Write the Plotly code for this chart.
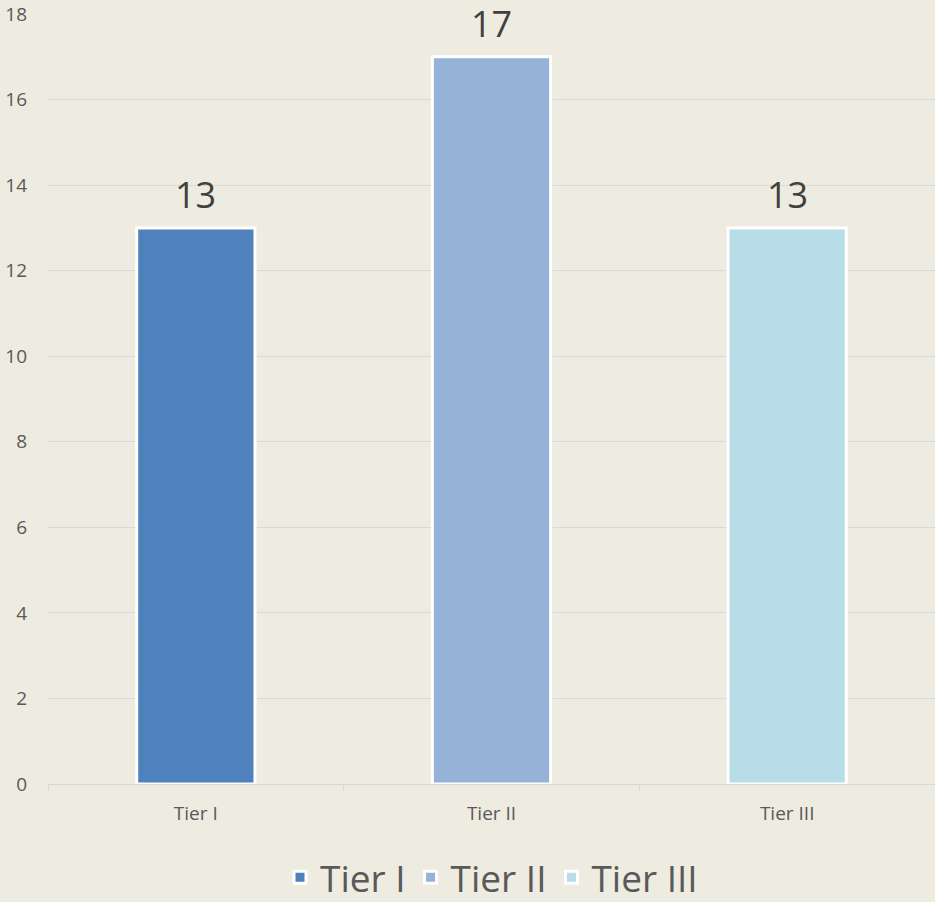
import plotly.graph_objects as go

categories = ["Tier I", "Tier II", "Tier III"]
values = [13, 17, 13]
colors = ["#4F81BD", "#95B3D7", "#B7DDE8"]
y_ticks = [0, 2, 4, 6, 8, 10, 12, 14, 16, 18]

fig = go.Figure()
for cat, val, col in zip(categories, values, colors):
    fig.add_trace(go.Bar(
        x=[cat], y=[val], name=cat,
        marker=dict(color=col, line=dict(color="white", width=3)),
        width=0.4,
    ))
    fig.add_annotation(
        x=cat, y=val, text=str(val), showarrow=False,
        yanchor="bottom", yshift=8, borderpad=0,
        font=dict(family="Open Sans", size=36, color="#404040"),
    )

fig.update_layout(
    width=935, height=902, autosize=False,
    paper_bgcolor="#EEEBE0", plot_bgcolor="#EEEBE0",
    margin=dict(l=48, r=0, t=14, b=118, pad=0),
    barmode="overlay",
    showlegend=True,
    legend=dict(orientation="h", x=0.5, xanchor="center", yref="container",
                y=0.027, yanchor="middle",
                font=dict(family="Open Sans", size=37, color="#595959"),
                itemwidth=30, traceorder="normal"),
    font=dict(family="Open Sans", color="#595959"),
)
fig.update_xaxes(
    categoryorder="array", categoryarray=categories,
    showline=True, linecolor="#D9D9D9", linewidth=1,
    ticks="outside", tickson="boundaries", ticklen=6, tickcolor="#D9D9D9",
    tickfont=dict(size=19, color="#595959"), showgrid=False, ticklabelstandoff=12,
)
fig.update_yaxes(
    range=[0, 18], tickvals=y_ticks, showgrid=True, gridcolor="#D9D9D9", gridwidth=1,
    zeroline=False, showline=False, ticks="", ticklabelstandoff=20,
    tickfont=dict(size=19, color="#595959"),
)
fig.write_html("out.html", config={"displayModeBar": False},
               post_script="document.body.style.margin='0';document.body.style.overflow='hidden';")
